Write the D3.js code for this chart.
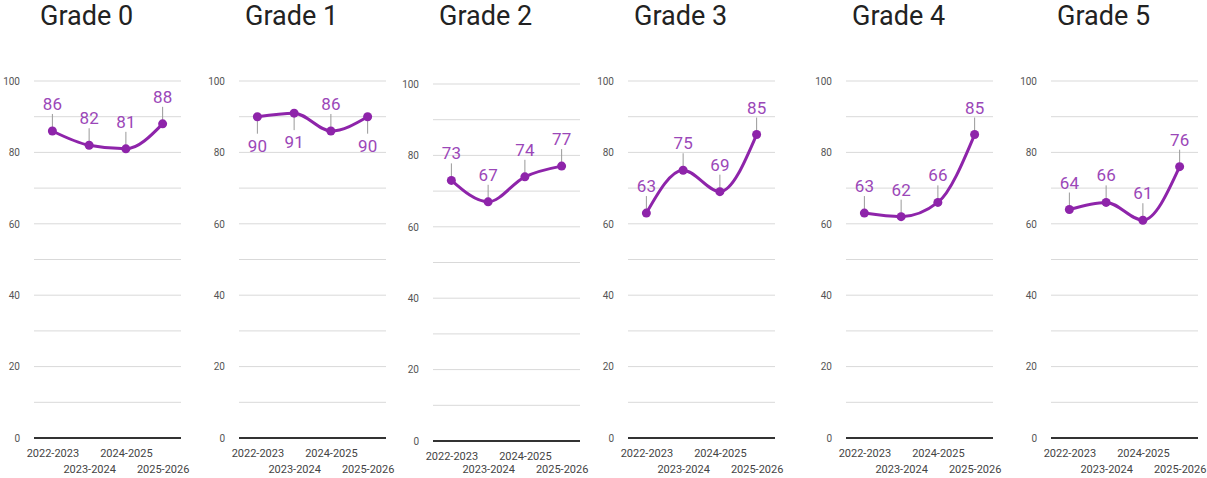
<!DOCTYPE html>
<html>
<head>
<meta charset="utf-8">
<script src="https://cdn.jsdelivr.net/npm/d3@7"></script>
<style>
  html, body { margin: 0; padding: 0; background: #fff; }
  svg { display: block; font-family: Roboto, "Open Sans", sans-serif; }
</style>
</head>
<body>
<svg id="chart" width="1207" height="478"></svg>
<script>
// School years shared by every panel
const years = ["2022-2023", "2023-2024", "2024-2025", "2025-2026"];

// Percent per grade and year
const grade0 = [86, 82, 81, 88];
const grade1 = [90, 91, 86, 90];
const grade2 = [73, 67, 74, 77];
const grade3 = [63, 75, 69, 85];
const grade4 = [63, 62, 66, 85];
const grade5 = [64, 66, 61, 76];

const gradeTitles = ["Grade 0", "Grade 1", "Grade 2", "Grade 3", "Grade 4", "Grade 5"];
const gradeValues = [grade0, grade1, grade2, grade3, grade4, grade5];

const yTickLabels = [0, 20, 40, 60, 80, 100];
const gridValues = [10, 20, 30, 40, 50, 60, 70, 80, 90, 100];

// Panel placement (left edge of plot area, vertical nudge)
const panelLeft = [34, 239, 433, 628, 846, 1051];
const panelShift = [0, 0, 3, 0, 0, 0];
const plotW = 147;
const plotTop = 81, plotBottom = 438;

const lineColor = "#8e24aa";
const labelColor = "#9b47b8";

const svg = d3.select("#chart");

gradeTitles.forEach((title, i) => {
  const vals = gradeValues[i];
  const g = svg.append("g")
    .attr("transform", `translate(${panelLeft[i]},${panelShift[i]})`);

  const x = d3.scalePoint().domain(years).range([0, plotW]).padding(0.5);
  const y = d3.scaleLinear().domain([0, 100]).range([plotBottom, plotTop]);

  // Title
  g.append("text")
    .attr("x", 6).attr("y", 25 - panelShift[i])
    .attr("font-size", 27).attr("fill", "#222")
    .text(title);

  // Gridlines
  g.append("g").selectAll("line").data(gridValues).join("line")
    .attr("x1", 0).attr("x2", plotW)
    .attr("y1", d => y(d)).attr("y2", d => y(d))
    .attr("stroke", "#d9d9d9").attr("stroke-width", 1);

  // Y axis labels
  const yAxis = d3.axisLeft(y).tickValues(yTickLabels).tickSize(0).tickPadding(14);
  const ya = g.append("g").call(yAxis);
  ya.select(".domain").remove();
  ya.selectAll("text").attr("font-size", 10).attr("fill", "#555")
    .attr("font-family", "Roboto, sans-serif");

  // Baseline
  g.append("line")
    .attr("x1", 0).attr("x2", plotW)
    .attr("y1", y(0)).attr("y2", y(0))
    .attr("stroke", "#333").attr("stroke-width", 2);

  // Category labels, staggered on two rows
  const xa = g.append("g").attr("transform", `translate(0,${y(0)})`)
    .call(d3.axisBottom(x).tickSize(0).tickPadding(0));
  xa.select(".domain").remove();
  xa.selectAll("text")
    .attr("font-size", 11).attr("fill", "#444")
    .attr("font-family", "Roboto, sans-serif")
    .attr("dy", null)
    .attr("y", (d, k) => k % 2 === 0 ? 19 : 35 - panelShift[i]);

  // Smoothed line
  const line = d3.line()
    .x((d, k) => x(years[k]))
    .y(d => y(d))
    .curve(d3.curveMonotoneX);

  g.append("path").datum(vals)
    .attr("d", line)
    .attr("fill", "none")
    .attr("stroke", lineColor)
    .attr("stroke-width", 3)
    .attr("stroke-linejoin", "round");

  // Leader lines and value labels; values near the top edge go underneath
  const below = d => d >= 90;
  const lbl = g.append("g").selectAll("g").data(vals).join("g")
    .attr("transform", (d, k) => `translate(${x(years[k])},${y(d)})`);

  lbl.append("line")
    .attr("x1", 0).attr("x2", 0)
    .attr("y1", 0).attr("y2", d => below(d) ? 17 : -17)
    .attr("stroke", "#999").attr("stroke-width", 1);

  lbl.append("text")
    .attr("text-anchor", "middle")
    .attr("y", d => below(d) ? 35 : -21)
    .attr("font-size", 17).attr("fill", labelColor)
    .text(d => d);

  // Points
  g.append("g").selectAll("circle").data(vals).join("circle")
    .attr("cx", (d, k) => x(years[k]))
    .attr("cy", d => y(d))
    .attr("r", 4.5)
    .attr("fill", lineColor);
});
</script>
</body>
</html>
